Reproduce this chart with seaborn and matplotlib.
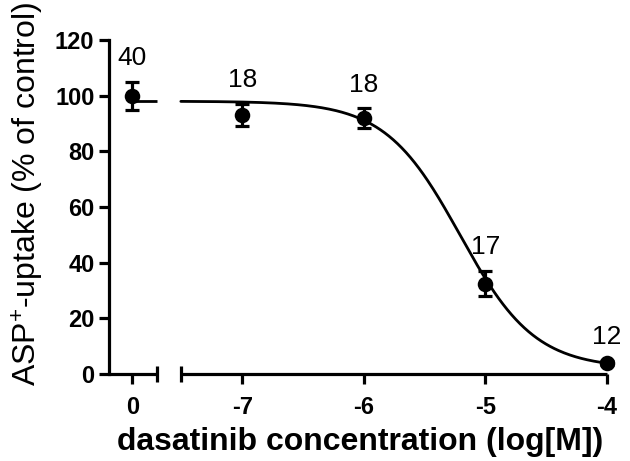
import numpy as np
import pandas as pd
import matplotlib
matplotlib.use("Agg")
import matplotlib.pyplot as plt
import seaborn as sns

# ---------------- data ----------------
tick_labels = ["0", "-7", "-6", "-5", "-4"]
log_conc = [-7, -6, -5, -4]          # dasatinib, log[M]
uptake = [93, 92, 32.5, 4]           # % of control
sem = [4, 3.5, 4.5, 0.8]
n_cells = [18, 18, 17, 12]

control_uptake = 100
control_sem = 5
control_n = 40

# fitted sigmoidal dose-response parameters
fit_top = 98
fit_bottom = 2
fit_log_ic50 = -5.21
fit_hill = 1.41

# ---------------- layout (broken x axis) ----------------
CTRL_POS = -7.905
X_LEFT = -8.097
LEFT_END = -7.703
RIGHT_START = -7.506
X_RIGHT = -4.0

sns.set_style("ticks")
plt.rcParams["font.family"] = ["Liberation Sans", "DejaVu Sans"]
plt.rcParams["mathtext.fontset"] = "custom"
plt.rcParams["mathtext.rm"] = "Liberation Sans"
plt.rcParams["mathtext.it"] = "Liberation Sans:italic"
plt.rcParams["mathtext.bf"] = "Liberation Sans:bold"
for key in ["text.color", "axes.labelcolor", "xtick.color", "ytick.color", "axes.edgecolor"]:
    plt.rcParams[key] = "black"

LW = 2.3
fig = plt.figure(figsize=(6.3, 4.61), dpi=100)
ax = fig.add_axes([109 / 630, 1 - 374 / 461, (607 - 109) / 630, (374 - 40) / 461])

# fitted curve
xs = np.linspace(RIGHT_START, X_RIGHT, 300)
ys = fit_bottom + (fit_top - fit_bottom) / (1 + 10 ** ((xs - fit_log_ic50) * fit_hill))
curve = pd.DataFrame({"x": xs, "y": ys})
sns.lineplot(data=curve, x="x", y="y", ax=ax, color="black", linewidth=2.0, clip_on=False)
ax.plot([CTRL_POS, LEFT_END], [fit_top, fit_top], color="black", linewidth=2.0,
        solid_capstyle="butt", clip_on=False)

# points + error bars
df = pd.DataFrame({
    "x": [CTRL_POS] + log_conc,
    "y": [control_uptake] + uptake,
    "sem": [control_sem] + sem,
    "n": [control_n] + n_cells,
})
ax.errorbar(df["x"], df["y"], yerr=df["sem"], fmt="none", ecolor="black",
            elinewidth=LW, capsize=5, capthick=LW, clip_on=False, zorder=3)
sns.scatterplot(data=df, x="x", y="y", ax=ax, color="black", s=125,
                edgecolor="black", linewidth=0, clip_on=False, zorder=4)

for x, y, e, n in zip(df["x"], df["y"], df["sem"], df["n"]):
    ax.annotate(str(n), (x, y + e), xytext=(0, 17), textcoords="offset points",
                ha="center", va="center", fontsize=19)

# axes
ax.set_xlim(X_LEFT, X_RIGHT)
ax.set_ylim(0, 120)
ax.set_yticks([0, 20, 40, 60, 80, 100, 120])
ax.set_xticks([CTRL_POS] + log_conc)
ax.set_xticklabels(tick_labels)
for lab in ax.get_xticklabels() + ax.get_yticklabels():
    lab.set_fontweight("bold")
ax.tick_params(axis="x", length=7, width=LW, pad=9, labelsize=17)
ax.tick_params(axis="y", length=7.5, width=LW, pad=3, labelsize=17)

for s in ["top", "right", "bottom"]:
    ax.spines[s].set_visible(False)
ax.spines["left"].set_linewidth(LW)

# broken x axis segments
for a, b in [(X_LEFT, LEFT_END), (RIGHT_START, X_RIGHT)]:
    ax.plot([a, b], [0, 0], color="black", linewidth=LW, solid_capstyle="butt",
            clip_on=False, zorder=2)
ax.plot([LEFT_END, RIGHT_START], [0, 0], linestyle="none", marker="|",
        markersize=11, markeredgewidth=LW, color="black", clip_on=False)

ax.set_xlabel("dasatinib concentration (log[M])", fontsize=23, fontweight="bold")
ax.xaxis.label.set_va("center")
ax.xaxis.set_label_coords((360 - 109) / 498, (374 - 442) / 334)
ax.set_ylabel("ASP$^{+}$-uptake (% of control)", fontsize=23)
ax.yaxis.label.set_va("center")
ax.yaxis.set_label_coords((28 - 109) / 498, (374 - 194) / 334)

fig.savefig("out.png", dpi=100)
